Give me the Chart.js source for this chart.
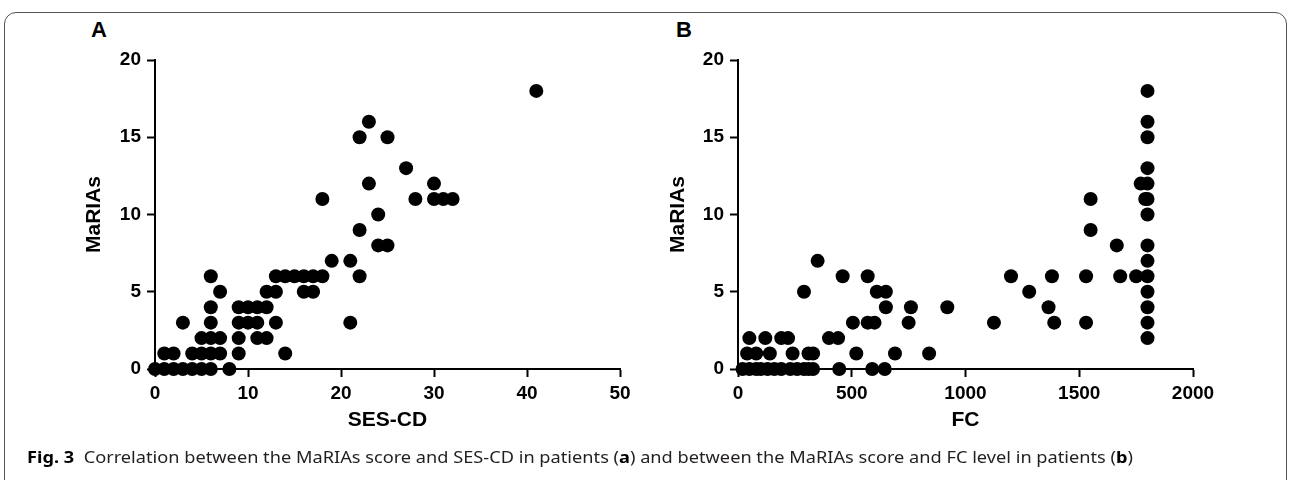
<!DOCTYPE html>
<html><head><meta charset="utf-8">
<script src="https://cdn.jsdelivr.net/npm/chart.js@4.4.1/dist/chart.umd.min.js"></script>
<style>
html,body{margin:0;padding:0;background:#fff;width:1291px;height:480px;overflow:hidden;position:relative;}
#frame{position:absolute;left:4px;top:12px;width:1283px;height:520px;border:1.5px solid #555;border-radius:12px;box-sizing:border-box;}
.cv{position:absolute;top:0;}
.letter{position:absolute;font:bold 22px "Liberation Sans",Arial,sans-serif;color:#000;line-height:1;}
#caption{position:absolute;left:27px;top:447px;white-space:nowrap;font:16.5px "Noto Sans",sans-serif;color:#231f20;transform-origin:0 0;line-height:1.2;}
#caption b{color:#000;}
</style></head>
<body>
<div id="frame"></div>
<div class="letter" style="left:91px;top:19px;">A</div>
<div class="letter" style="left:676px;top:19px;">B</div>
<canvas id="cA" class="cv" style="left:0px;" width="680" height="450"></canvas>
<canvas id="cB" class="cv" style="left:640px;" width="640" height="450"></canvas>
<div id="caption"><b>Fig. 3</b>&nbsp;&nbsp;Correlation between the MaRIAs score and SES-CD in patients (<b>a</b>) and between the MaRIAs score and FC level in patients (<b>b</b>)</div>
<script>
// Panel A: SES-CD vs MaRIAs
const sesCD = [0,1,2,3,4,5,6,8, 1,2,4,5,6,7,9,14, 5,6,7,9,11,12, 3,6,9,10,11,13,21, 6,9,10,11,12, 7,12,13,16,17, 6,13,14,15,16,17,18,22, 19,21, 24,25, 22, 24, 18,28,30,31,32, 23,30, 27, 22,25, 23, 41];
const mariasA = [0,0,0,0,0,0,0,0, 1,1,1,1,1,1,1,1, 2,2,2,2,2,2, 3,3,3,3,3,3,3, 4,4,4,4,4, 5,5,5,5,5, 6,6,6,6,6,6,6,6, 7,7, 8,8, 9, 10, 11,11,11,11,11, 12,12, 13, 15,15, 16, 18];
// Panel B: FC vs MaRIAs
const fc = [20,50,80,100,130,160,190,230,260,290,310,330,445,590,645,
  40,80,140,240,310,330,520,690,840,
  50,120,190,220,400,440,1800,
  505,570,600,750,1125,1390,1530,1800,
  650,760,920,1365,1800,
  290,610,650,1280,1800,
  460,570,1200,1380,1530,1680,1750,1800,
  350,1800, 1665,1800, 1550, 1800, 1550,1790,1800, 1770,1800, 1800, 1800, 1800, 1800];
const mariasB = [0,0,0,0,0,0,0,0,0,0,0,0,0,0,0,
  1,1,1,1,1,1,1,1,1,
  2,2,2,2,2,2,2,
  3,3,3,3,3,3,3,3,
  4,4,4,4,4,
  5,5,5,5,5,
  6,6,6,6,6,6,6,6,
  7,7, 8,8, 9, 10, 11,11,11, 12,12, 13, 15, 16, 18];
const xTicksA = [0,10,20,30,40,50];
const xTicksB = [0,500,1000,1500,2000];
const yTicks = [0,5,10,15,20];

const FONT = '"Liberation Sans", Arial, sans-serif';
function makeChart(id, xs, ys, xTicks, xTitle, padLeft, padRight, yAxisW) {
  const pts = xs.map((x, i) => ({x: x, y: ys[i]}));
  const axisCommon = {
    border: {display: true, color: '#000', width: 2},
    grid: {display: true, drawOnChartArea: false, drawTicks: true, tickLength: 8, tickColor: '#000', tickWidth: 2},
    ticks: {color: '#000', font: {family: FONT, size: 19, weight: 'bold'}, callback: v => String(v)},
    title: {display: true, color: '#000', font: {family: FONT, size: 21, weight: 'bold'}, padding: {top: 4, bottom: 4}}
  };
  return new Chart(document.getElementById(id), {
    type: 'scatter',
    data: {datasets: [{data: pts, pointRadius: 7, pointHoverRadius: 7, pointBackgroundColor: '#000', pointBorderWidth: 0, borderWidth: 0, clip: false}]},
    options: {
      responsive: false, animation: false,
      layout: {padding: {left: padLeft, right: padRight, top: 60, bottom: 13}},
      plugins: {legend: {display: false}, tooltip: {enabled: false}},
      scales: {
        x: Object.assign({}, axisCommon, {
          type: 'linear', min: xTicks[0], max: xTicks[xTicks.length - 1],
          afterBuildTicks: s => { s.ticks = xTicks.map(v => ({value: v})); },
          afterFit: s => { s.height = 68; },
          ticks: Object.assign({}, axisCommon.ticks, {padding: 5, maxRotation: 0}),
          title: Object.assign({}, axisCommon.title, {text: xTitle})
        }),
        y: Object.assign({}, axisCommon, {
          type: 'linear', min: 0, max: 20,
          afterBuildTicks: s => { s.ticks = yTicks.map(v => ({value: v})); },
          afterFit: s => { s.width = yAxisW; },
          ticks: Object.assign({}, axisCommon.ticks, {padding: 6}),
          title: Object.assign({}, axisCommon.title, {text: 'MaRIAs'})
        })
      }
    }
  });
}
// Panel A: chart area x 155..620, y 60..369
makeChart('cA', sesCD, mariasA, xTicksA, 'SES-CD', 78, 60, 77);
// Panel B: chart area x 738..1193 (canvas offset 640)
makeChart('cB', fc, mariasB, xTicksB, 'FC', 22, 87, 76);

// fit caption width to reference
const cap = document.getElementById('caption');
const w = cap.getBoundingClientRect().width;
cap.style.transform = 'scaleX(' + (1106 / w) + ')';
</script>
</body></html>
